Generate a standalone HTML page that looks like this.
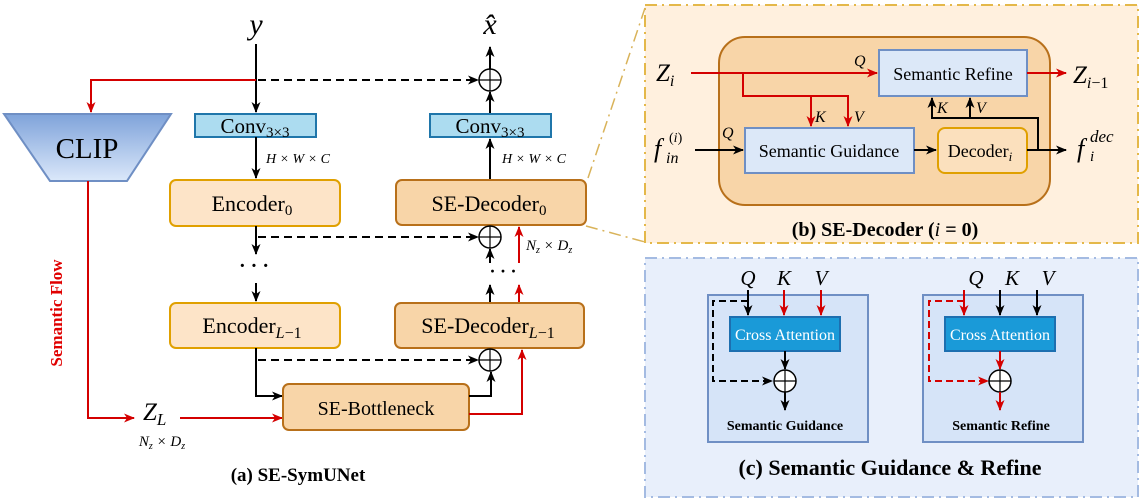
<!DOCTYPE html>
<html><head><meta charset="utf-8"><style>
html,body{margin:0;padding:0;background:#fff;}
svg, svg text{font-family:"Liberation Serif","Times New Roman",serif;}
.m{font-style:italic;}
</style></head><body>
<svg width="1141" height="502" viewBox="0 0 1141 502" xmlns="http://www.w3.org/2000/svg" font-family="Liberation Serif, serif" style="display:block">
<defs>
<marker id="ab" markerWidth="11" markerHeight="10" refX="10" refY="5" orient="auto" markerUnits="userSpaceOnUse"><path d="M0,0.5 L11,5 L0,9.5 L3,5 Z" fill="#000"/></marker>
<marker id="ar" markerWidth="11" markerHeight="10" refX="10" refY="5" orient="auto" markerUnits="userSpaceOnUse"><path d="M0,0.5 L11,5 L0,9.5 L3,5 Z" fill="#d40000"/></marker>
<linearGradient id="cg" x1="0" y1="0" x2="0" y2="1"><stop offset="0" stop-color="#7fa3da"/><stop offset="1" stop-color="#dbe8fa"/></linearGradient>
</defs>

<rect x="645" y="5" width="493" height="238" fill="#fff0de" stroke="#e4b84a" stroke-width="2" stroke-dasharray="12,5,2,5"/>
<rect x="645" y="258" width="493" height="239" fill="#e8effb" stroke="#a4bbe2" stroke-width="2" stroke-dasharray="12,5,2,5"/>
<line x1="588" y1="178" x2="645" y2="8" stroke="#d9b35a" stroke-width="1.5" stroke-dasharray="12,5,2,5"/>
<line x1="586" y1="226" x2="645" y2="242" stroke="#d9b35a" stroke-width="1.5" stroke-dasharray="12,5,2,5"/>

<!-- (a) -->
<text x="256" y="34" font-size="30" class="m" text-anchor="middle">y</text>
<text x="490" y="34" font-size="30" class="m" text-anchor="middle">x̂</text>
<line x1="256" y1="44" x2="256" y2="112" stroke="#000" stroke-width="2" marker-end="url(#ab)"/>
<polyline points="256,80 91,80 91,112" fill="none" stroke="#d40000" stroke-width="2" marker-end="url(#ar)"/>
<line x1="258" y1="80" x2="478" y2="80" stroke="#000" stroke-width="2" stroke-dasharray="8,5" marker-end="url(#ab)"/>
<circle cx="490" cy="80" r="11" fill="#fff" stroke="#000" stroke-width="1.5"/>
<path d="M479,80 H501 M490,69 V91" stroke="#000" stroke-width="1.2"/>
<line x1="490" y1="69" x2="490" y2="47" stroke="#000" stroke-width="2" marker-end="url(#ab)"/>
<line x1="490" y1="113" x2="490" y2="92" stroke="#000" stroke-width="2" marker-end="url(#ab)"/>

<polygon points="4,114 171,114 127,181 50,181" fill="url(#cg)" stroke="#6f8fc4" stroke-width="2"/>
<text x="87" y="158" font-size="29" text-anchor="middle">CLIP</text>
<polyline points="88,181 88,418 134,418" fill="none" stroke="#d40000" stroke-width="2" marker-end="url(#ar)"/>
<text x="62" y="313" font-size="17" font-weight="bold" fill="#e00000" text-anchor="middle" transform="rotate(-90 62 313)">Semantic Flow</text>
<text x="143" y="420" font-size="25" class="m">Z<tspan font-size="17" dy="5">L</tspan></text>
<text x="162" y="446" font-size="15" class="m" text-anchor="middle">N<tspan font-size="10" dy="3">z</tspan><tspan dy="-3"> × D</tspan><tspan font-size="10" dy="3">z</tspan></text>
<line x1="180" y1="418" x2="282" y2="418" stroke="#d40000" stroke-width="2" marker-end="url(#ar)"/>

<rect x="195" y="114" width="121" height="23" fill="#acdcf0" stroke="#1f76aa" stroke-width="2"/>
<text x="255" y="133" font-size="21" text-anchor="middle">Conv<tspan font-size="15" dy="4">3×3</tspan></text>
<rect x="430" y="114" width="121" height="23" fill="#acdcf0" stroke="#1f76aa" stroke-width="2"/>
<text x="490" y="133" font-size="21" text-anchor="middle">Conv<tspan font-size="15" dy="4">3×3</tspan></text>

<line x1="256" y1="137" x2="256" y2="178" stroke="#000" stroke-width="2" marker-end="url(#ab)"/>
<text x="266" y="163" font-size="14" class="m">H × W × C</text>
<line x1="490" y1="180" x2="490" y2="139" stroke="#000" stroke-width="2" marker-end="url(#ab)"/>
<text x="502" y="163" font-size="14" class="m">H × W × C</text>

<rect x="170" y="180" width="170" height="46" rx="6" fill="#fde4c8" stroke="#e0a000" stroke-width="2"/>
<text x="252" y="211" font-size="22" text-anchor="middle">Encoder<tspan font-size="15" dy="4">0</tspan></text>
<rect x="396" y="180" width="190" height="45" rx="6" fill="#f8d5a8" stroke="#b8701a" stroke-width="2"/>
<text x="489" y="211" font-size="22" text-anchor="middle">SE-Decoder<tspan font-size="15" dy="4">0</tspan></text>

<line x1="256" y1="226" x2="256" y2="254" stroke="#000" stroke-width="2" marker-end="url(#ab)"/>
<line x1="258" y1="237" x2="478" y2="237" stroke="#000" stroke-width="2" stroke-dasharray="8,5" marker-end="url(#ab)"/>
<circle cx="490" cy="237" r="11" fill="#fff" stroke="#000" stroke-width="1.5"/>
<path d="M479,237 H501 M490,226 V248" stroke="#000" stroke-width="1.2"/>
<text x="254" y="272" font-size="20" font-weight="bold" text-anchor="middle">· · ·</text>
<line x1="256" y1="283" x2="256" y2="301" stroke="#000" stroke-width="2" marker-end="url(#ab)"/>

<rect x="170" y="303" width="170" height="45" rx="6" fill="#fde4c8" stroke="#e0a000" stroke-width="2"/>
<text x="252" y="333" font-size="22" text-anchor="middle">Encoder<tspan font-size="16" dy="5" class="m">L</tspan><tspan font-size="16">−1</tspan></text>
<rect x="395" y="303" width="189" height="45" rx="6" fill="#f8d5a8" stroke="#b8701a" stroke-width="2"/>
<text x="488" y="333" font-size="22" text-anchor="middle">SE-Decoder<tspan font-size="16" dy="5" class="m">L</tspan><tspan font-size="16">−1</tspan></text>

<line x1="490" y1="263" x2="490" y2="249" stroke="#000" stroke-width="2" marker-end="url(#ab)"/>
<line x1="490" y1="302" x2="490" y2="285" stroke="#000" stroke-width="2" marker-end="url(#ab)"/>
<line x1="519" y1="263" x2="519" y2="227" stroke="#d40000" stroke-width="2" marker-end="url(#ar)"/>
<line x1="519" y1="302" x2="519" y2="285" stroke="#d40000" stroke-width="2" marker-end="url(#ar)"/>
<text x="503" y="277" font-size="18" font-weight="bold" text-anchor="middle">· · ·</text>
<text x="526" y="250" font-size="15" class="m">N<tspan font-size="10" dy="3">z</tspan><tspan dy="-3"> × D</tspan><tspan font-size="10" dy="3">z</tspan></text>

<line x1="258" y1="360" x2="478" y2="360" stroke="#000" stroke-width="2" stroke-dasharray="8,5" marker-end="url(#ab)"/>
<circle cx="490" cy="360" r="11" fill="#fff" stroke="#000" stroke-width="1.5"/>
<path d="M479,360 H501 M490,349 V371" stroke="#000" stroke-width="1.2"/>
<polyline points="256,348 256,396 282,396" fill="none" stroke="#000" stroke-width="2" marker-end="url(#ab)"/>

<rect x="283" y="384" width="186" height="46" rx="6" fill="#f8d5a8" stroke="#b8701a" stroke-width="2"/>
<text x="376" y="415" font-size="20" text-anchor="middle">SE-Bottleneck</text>
<polyline points="469,396 491,396 491,372" fill="none" stroke="#000" stroke-width="2" marker-end="url(#ab)"/>
<polyline points="469,414 522,414 522,350" fill="none" stroke="#d40000" stroke-width="2" marker-end="url(#ar)"/>
<text x="298" y="481" font-size="19" font-weight="bold" text-anchor="middle">(a) SE-SymUNet</text>

<!-- (b) -->
<rect x="719" y="37" width="331" height="168" rx="26" fill="#f8d5a8" stroke="#b8701a" stroke-width="2"/>
<rect x="879" y="50" width="148" height="46" fill="#dce8f8" stroke="#6f8fc4" stroke-width="2"/>
<text x="953" y="80" font-size="18" text-anchor="middle">Semantic Refine</text>
<rect x="745" y="128" width="169" height="45" fill="#dce8f8" stroke="#6f8fc4" stroke-width="2"/>
<text x="829" y="157" font-size="18" text-anchor="middle">Semantic Guidance</text>
<rect x="938" y="128" width="89" height="45" rx="7" fill="#fbe0bd" stroke="#e0a000" stroke-width="2"/>
<text x="980" y="157" font-size="18" text-anchor="middle">Decoder<tspan font-size="13" dy="4" class="m">i</tspan></text>

<text x="656" y="81" font-size="25" class="m">Z<tspan font-size="16" dy="5">i</tspan></text>
<line x1="691" y1="73" x2="877" y2="73" stroke="#d40000" stroke-width="2" marker-end="url(#ar)"/>
<polyline points="743,73 743,96 848,96 848,126" fill="none" stroke="#d40000" stroke-width="2" marker-end="url(#ar)"/>
<line x1="811" y1="96" x2="811" y2="126" stroke="#d40000" stroke-width="2" marker-end="url(#ar)"/>
<text x="815" y="122" font-size="16" class="m">K</text>
<text x="854" y="122" font-size="16" class="m">V</text>
<text x="854" y="66" font-size="16" class="m">Q</text>
<line x1="1027" y1="73" x2="1066" y2="73" stroke="#d40000" stroke-width="2" marker-end="url(#ar)"/>
<text x="1073" y="83" font-size="25" class="m">Z<tspan font-size="16" dy="5">i</tspan><tspan font-size="16" font-style="normal">−1</tspan></text>

<text x="654" y="157" font-size="26" class="m">f</text>
<text x="666" y="163" font-size="16" class="m">in</text>
<text x="669" y="142" font-size="14">(<tspan class="m">i</tspan>)</text>
<text x="722" y="138" font-size="16" class="m">Q</text>
<line x1="695" y1="150" x2="743" y2="150" stroke="#000" stroke-width="2" marker-end="url(#ab)"/>
<line x1="914" y1="150" x2="936" y2="150" stroke="#000" stroke-width="2" marker-end="url(#ab)"/>
<line x1="1027" y1="150" x2="1066" y2="150" stroke="#000" stroke-width="2" marker-end="url(#ab)"/>
<polyline points="1038,150 1038,118 932,118 932,98" fill="none" stroke="#000" stroke-width="2" marker-end="url(#ab)"/>
<line x1="970" y1="118" x2="970" y2="98" stroke="#000" stroke-width="2" marker-end="url(#ab)"/>
<text x="937" y="113" font-size="16" class="m">K</text>
<text x="976" y="113" font-size="16" class="m">V</text>
<text x="1077" y="157" font-size="26" class="m">f</text>
<text x="1090" y="161" font-size="15" class="m">i</text>
<text x="1090" y="142" font-size="17" class="m">dec</text>
<text x="885" y="236" font-size="20" font-weight="bold" text-anchor="middle">(b) SE-Decoder (<tspan class="m" font-weight="normal">i</tspan> = 0)</text>

<!-- (c) -->
<rect x="708" y="295" width="160" height="147" fill="#d6e4f8" stroke="#6f8fc4" stroke-width="2"/>
<rect x="923" y="295" width="160" height="147" fill="#d6e4f8" stroke="#6f8fc4" stroke-width="2"/>
<text x="748" y="285" font-size="21" class="m" text-anchor="middle">Q</text>
<text x="784" y="285" font-size="21" class="m" text-anchor="middle">K</text>
<text x="821" y="285" font-size="21" class="m" text-anchor="middle">V</text>
<text x="976" y="285" font-size="21" class="m" text-anchor="middle">Q</text>
<text x="1012" y="285" font-size="21" class="m" text-anchor="middle">K</text>
<text x="1048" y="285" font-size="21" class="m" text-anchor="middle">V</text>

<rect x="730" y="317" width="110" height="34" fill="#1a9ad8" stroke="#1d6fb0" stroke-width="2"/>
<text x="785" y="340" font-size="16" fill="#fff" text-anchor="middle">Cross Attention</text>
<rect x="945" y="317" width="110" height="34" fill="#1a9ad8" stroke="#1d6fb0" stroke-width="2"/>
<text x="1000" y="340" font-size="16" fill="#fff" text-anchor="middle">Cross Attention</text>

<line x1="748" y1="290" x2="748" y2="315" stroke="#000" stroke-width="2" marker-end="url(#ab)"/>
<line x1="784" y1="290" x2="784" y2="315" stroke="#d40000" stroke-width="2" marker-end="url(#ar)"/>
<line x1="821" y1="290" x2="821" y2="315" stroke="#d40000" stroke-width="2" marker-end="url(#ar)"/>
<polyline points="748,301 713,301 713,381 772,381" fill="none" stroke="#000" stroke-width="2" stroke-dasharray="7,4" marker-end="url(#ab)"/>
<line x1="785" y1="351" x2="785" y2="369" stroke="#000" stroke-width="2" marker-end="url(#ab)"/>
<circle cx="785" cy="381" r="11" fill="#fff" stroke="#000" stroke-width="1.5"/>
<path d="M774,381 H796 M785,370 V392" stroke="#000" stroke-width="1.2"/>
<line x1="785" y1="392" x2="785" y2="410" stroke="#000" stroke-width="2" marker-end="url(#ab)"/>
<text x="785" y="430" font-size="14" font-weight="bold" text-anchor="middle">Semantic Guidance</text>

<line x1="964" y1="290" x2="964" y2="315" stroke="#d40000" stroke-width="2" marker-end="url(#ar)"/>
<line x1="1000" y1="290" x2="1000" y2="315" stroke="#000" stroke-width="2" marker-end="url(#ab)"/>
<line x1="1037" y1="290" x2="1037" y2="315" stroke="#000" stroke-width="2" marker-end="url(#ab)"/>
<polyline points="964,301 929,301 929,381 988,381" fill="none" stroke="#d40000" stroke-width="2" stroke-dasharray="7,4" marker-end="url(#ar)"/>
<line x1="1000" y1="351" x2="1000" y2="369" stroke="#d40000" stroke-width="2" marker-end="url(#ar)"/>
<circle cx="1000" cy="381" r="11" fill="#fff" stroke="#000" stroke-width="1.5"/>
<path d="M989,381 H1011 M1000,370 V392" stroke="#000" stroke-width="1.2"/>
<line x1="1000" y1="392" x2="1000" y2="410" stroke="#d40000" stroke-width="2" marker-end="url(#ar)"/>
<text x="1001" y="430" font-size="14" font-weight="bold" text-anchor="middle">Semantic Refine</text>
<text x="890" y="475" font-size="22" font-weight="bold" text-anchor="middle">(c) Semantic Guidance &amp; Refine</text>
</svg>
</body></html>
